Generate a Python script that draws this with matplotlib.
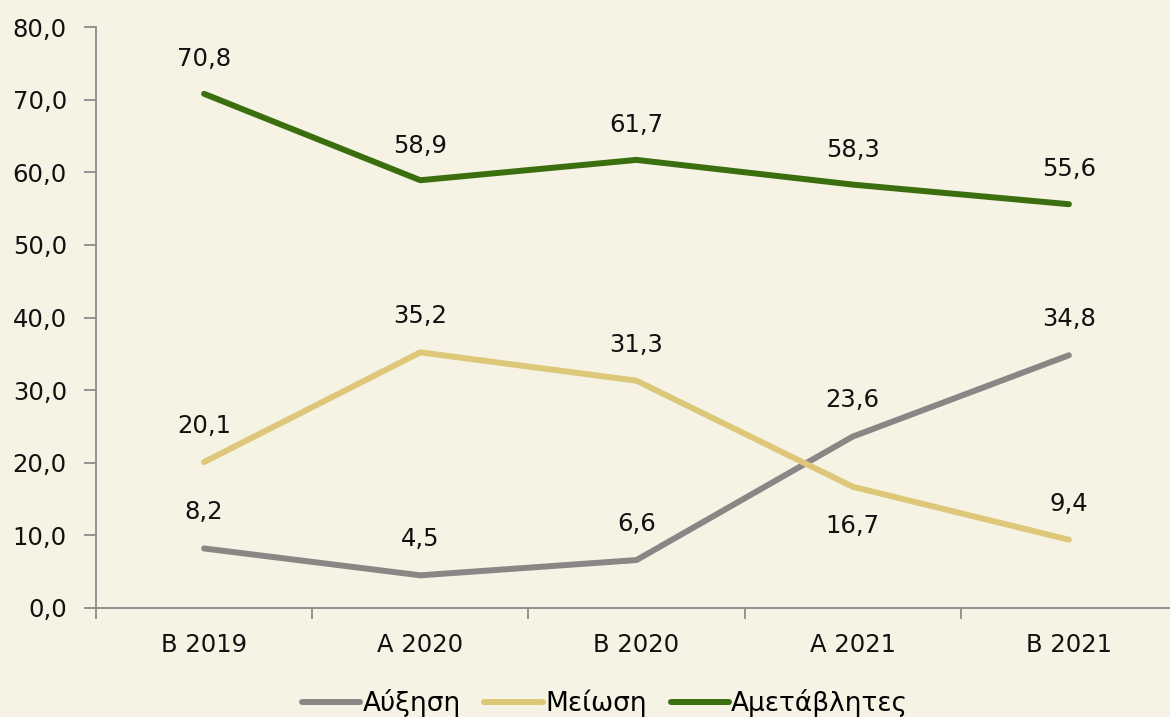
import matplotlib
matplotlib.use("Agg")
import matplotlib.pyplot as plt
from matplotlib.ticker import FixedLocator, NullFormatter

categories = ["Β 2019", "Α 2020", "Β 2020", "Α 2021", "Β 2021"]
increase = [8.2, 4.5, 6.6, 23.6, 34.8]
decrease = [20.1, 35.2, 31.3, 16.7, 9.4]
unchanged = [70.8, 58.9, 61.7, 58.3, 55.6]
series_names = ["Αύξηση", "Μείωση", "Αμετάβλητες"]

plt.rcParams['font.family'] = ['DejaVu Sans']

bg = "#F6F2E4"
c_gray = "#8C8585"
c_yellow = "#DCC878"
c_green = "#3A6E0F"

W, H = 1170, 717
fig = plt.figure(figsize=(W/100, H/100), dpi=100, facecolor=bg)
left, right = 96, 1177
top, bottom = 27, 608
ax = fig.add_axes([left/W, 1 - bottom/H, (right-left)/W, (bottom-top)/H])
ax.set_facecolor(bg)

x = list(range(len(categories)))
lw = 4.3
l1, = ax.plot(x, increase, color=c_gray, lw=lw, solid_capstyle='round', label=series_names[0])
l2, = ax.plot(x, decrease, color=c_yellow, lw=lw, solid_capstyle='round', label=series_names[1])
l3, = ax.plot(x, unchanged, color=c_green, lw=lw, solid_capstyle='round', label=series_names[2])

def fmt(v):
    return f"{v:.1f}".replace(".", ",")

fs = 17.5
for xi, v in zip(x, increase):
    ax.annotate(fmt(v), (xi, v), xytext=(0, 26), textcoords='offset points',
                ha='center', va='center', fontsize=fs, color='#111111')
for i, (xi, v) in enumerate(zip(x, decrease)):
    off = -28 if i == 3 else 26
    ax.annotate(fmt(v), (xi, v), xytext=(0, off), textcoords='offset points',
                ha='center', va='center', fontsize=fs, color='#111111')
for xi, v in zip(x, unchanged):
    ax.annotate(fmt(v), (xi, v), xytext=(0, 25), textcoords='offset points',
                ha='center', va='center', fontsize=fs, color='#111111')

ax.set_xlim(-0.5, len(categories) - 0.5)
ax.set_ylim(0, 80)
ax.set_yticks(range(0, 81, 10))
ax.set_yticklabels([fmt(v) for v in range(0, 81, 10)], fontsize=fs, color='#111111')
ax.xaxis.set_major_locator(FixedLocator([i - 0.5 for i in range(len(categories) + 1)]))
ax.xaxis.set_major_formatter(NullFormatter())
ax.set_xticks(x, minor=True)
ax.set_xticklabels(categories, minor=True, fontsize=fs, color='#111111')
ax.tick_params(axis='x', which='minor', length=0, pad=18)
ax.tick_params(axis='x', which='major', length=8, color='#8C8C8C', width=1.3, direction='out')
ax.tick_params(axis='y', length=9, color='#8C8C8C', width=1.3, pad=12)

for s in ['top', 'right']:
    ax.spines[s].set_visible(False)
for s in ['left', 'bottom']:
    ax.spines[s].set_color('#8C8C8C')
    ax.spines[s].set_linewidth(1.3)

fig.legend(handles=[l1, l2, l3], loc='center', bbox_to_anchor=(605/W, 1 - 703/H),
           ncol=3, frameon=False, fontsize=19, handlelength=2.2, handletextpad=0.1,
           columnspacing=0.9)

fig.savefig("out.png", dpi=100, facecolor=bg)
